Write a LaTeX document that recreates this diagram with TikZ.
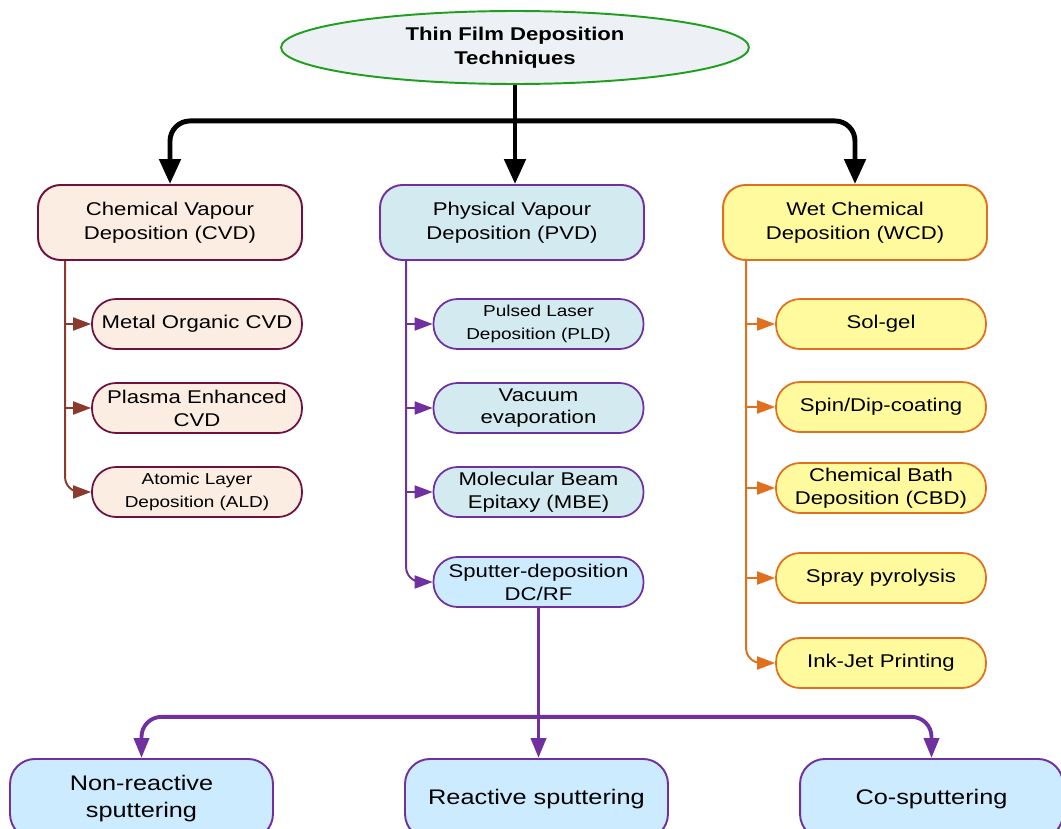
\documentclass[tikz,border=0pt]{standalone}
\usepackage{fontspec}
\setmainfont{Liberation Sans}[FakeStretch=1.2]
\usetikzlibrary{positioning,arrows.meta,shapes.geometric}
\definecolor{titlefill}{HTML}{EDF0F5}
\definecolor{titleline}{HTML}{1EA01E}
\definecolor{cvdfill}{HTML}{FCEDE2}
\definecolor{cvdline}{HTML}{6E1040}
\definecolor{cvdarr}{HTML}{8B3A2E}
\definecolor{pvdfill}{HTML}{D3EBF0}
\definecolor{pvdline}{HTML}{7030A0}
\definecolor{sputfill}{HTML}{CCEBFF}
\definecolor{wcdfill}{HTML}{FFFA9E}
\definecolor{wcdline}{HTML}{E0701E}

\begin{document}
\begin{tikzpicture}[x=0.02cm,y=-0.02cm,
  mainbox/.style={draw,rounded corners=0.45cm,line width=1.1pt,minimum width=5.28cm,minimum height=1.5cm,align=center,inner sep=2pt,font=\fontsize{10.5}{13.6}\selectfont},
  subbox/.style={draw,rounded corners=0.48cm,line width=1pt,minimum width=4.2cm,minimum height=1cm,align=center,inner sep=1pt,font=\fontsize{10.5}{13}\selectfont},
  smallbox/.style={subbox,font=\fontsize{9}{13}\selectfont},
  leafbox/.style={draw=pvdline,fill=sputfill,rounded corners=0.5cm,line width=1.1pt,minimum width=5.26cm,minimum height=1.6cm,anchor=north,align=center,font=\fontsize{12}{15.3}\selectfont},
  cvdbox/.style={draw=cvdline,fill=cvdfill},
  pvdbox/.style={draw=pvdline,fill=pvdfill},
  wcdbox/.style={draw=wcdline,fill=wcdfill},
  bigarrow/.style={line width=2.8pt,-{Triangle[length=0.5cm,width=0.42cm]}},
  subarrow/.style={line width=1.1pt,-{Triangle[length=0.36cm,width=0.26cm]}},
  botarrow/.style={draw=pvdline,line width=2.2pt,-{Triangle[length=0.4cm,width=0.3cm]}}]
\useasboundingbox (0,0) rectangle (1061,828);
\clip (0,0) rectangle (1061,828);

% root
\node[ellipse,draw=titleline,fill=titlefill,line width=1.1pt,minimum width=9.36cm,minimum height=1.46cm,inner sep=0pt,align=center,font=\fontsize{10.5}{13.6}\selectfont\bfseries] (title) at (515,47.5) {Thin Film Deposition\\Techniques};

% three families
\node[mainbox,cvdbox] (cvd) at (170,222.5) {Chemical Vapour\\Deposition (CVD)};
\node[mainbox,pvdbox] (pvd) at (512,222.5) {Physical Vapour\\Deposition (PVD)};
\node[mainbox,wcdbox] (wcd) at (855,222.5) {Wet Chemical\\Deposition (WCD)};

\draw[bigarrow] (title.south) -- (title.south |- pvd.north);
\draw[bigarrow,rounded corners=0.4cm] ([yshift=-0.72cm]title.south) -| (cvd.north);
\draw[bigarrow,rounded corners=0.4cm] ([yshift=-0.72cm]title.south) -| (wcd.north);

% CVD methods
\node[subbox,cvdbox] (mocvd) at (197,324) {Metal Organic CVD};
\node[subbox,cvdbox] (pecvd) at (197,408) {Plasma Enhanced\\CVD};
\node[smallbox,cvdbox] (ald) at (197,492) {Atomic Layer\\Deposition (ALD)};

% PVD methods
\node[smallbox,pvdbox] (pld) at (538.5,324) {Pulsed Laser\\Deposition (PLD)};
\node[subbox,pvdbox] (vac) at (538.5,408) {Vacuum\\evaporation};
\node[subbox,pvdbox] (mbe) at (538.5,492) {Molecular Beam\\Epitaxy (MBE)};
\node[subbox,draw=pvdline,fill=sputfill] (sput) at (538.5,582) {Sputter-deposition\\DC/RF};

% WCD methods
\node[subbox,wcdbox] (solgel) at (881,324) {Sol-gel};
\node[subbox,wcdbox] (spin) at (881,407) {Spin/Dip-coating};
\node[subbox,wcdbox] (cbd) at (881,488) {Chemical Bath\\Deposition (CBD)};
\node[subbox,wcdbox] (spray) at (881,578) {Spray pyrolysis};
\node[subbox,wcdbox] (ink) at (881,663) {Ink-Jet Printing};

% side buses
\coordinate (cvdbus) at ([xshift=0.56cm]cvd.south west);
\coordinate (pvdbus) at ([xshift=0.54cm]pvd.south west);
\coordinate (wcdbus) at ([xshift=0.48cm]wcd.south west);

\draw[subarrow,cvdarr,rounded corners=0.3cm] (cvdbus) |- (ald.west);
\foreach \n in {mocvd,pecvd}
  \draw[subarrow,cvdarr] (cvdbus |- \n.west) -- (\n.west);

\draw[subarrow,pvdline,rounded corners=0.3cm] (pvdbus) |- (sput.west);
\foreach \n in {pld,vac,mbe}
  \draw[subarrow,pvdline] (pvdbus |- \n.west) -- (\n.west);

\draw[subarrow,wcdline,rounded corners=0.3cm] (wcdbus) |- (ink.west);
\foreach \n in {solgel,spin,cbd,spray}
  \draw[subarrow,wcdline] (wcdbus |- \n.west) -- (\n.west);

% sputtering modes
\node[leafbox] (nonreact) at (141.5,758) {Non-reactive\\sputtering};
\node[leafbox] (react) at (536.5,758) {Reactive sputtering};
\node[leafbox] (cosput) at (931.5,758) {Co-sputtering};

\coordinate (split) at ([yshift=-2.18cm]sput.south);
\draw[botarrow] (sput.south) -- (sput.south |- react.north);
\draw[botarrow,rounded corners=0.4cm] (split) -| (nonreact.north);
\draw[botarrow,rounded corners=0.4cm] (split) -| (cosput.north);
\end{tikzpicture}
\end{document}
